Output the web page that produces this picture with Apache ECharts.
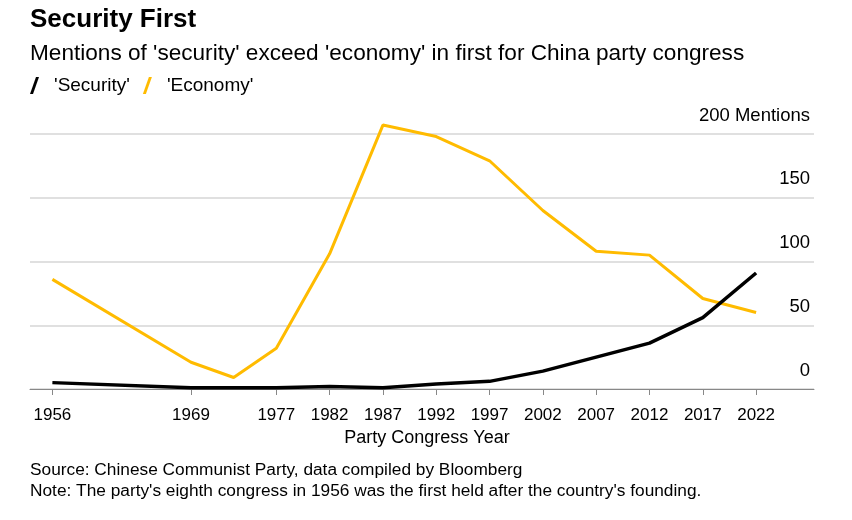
<!DOCTYPE html>
<html>
<head>
<meta charset="utf-8">
<script src="https://cdn.jsdelivr.net/npm/echarts@6/dist/echarts.min.js"></script>
<style>html,body{margin:0;padding:0;background:#fff;}#c{width:852px;height:520px;}</style>
</head>
<body>
<div id="c"></div>
<script>
var years = [1956, 1969, 1973, 1977, 1982, 1987, 1992, 1997, 2002, 2007, 2012, 2017, 2022];
var security = [5, 1, 1, 1, 2, 1, 4, 6, 14, 25, 36, 56, 91];
var economy = [86, 21, 9, 32, 106, 207, 198, 179, 140, 108, 105, 71, 60];
var tickYears = [1956, 1969, 1977, 1982, 1987, 1992, 1997, 2002, 2007, 2012, 2017, 2022];
var yTicks = [0, 50, 100, 150, 200];

var FONT = '"Liberation Sans", Arial, sans-serif';
function pairs(vals) { return years.map(function (y, i) { return [y, vals[i]]; }); }

var chart = echarts.init(document.getElementById('c'));
chart.setOption({
  backgroundColor: '#fff',
  animation: false,
  textStyle: { fontFamily: FONT },
  title: [
    { text: 'Security First', left: 30, top: 7, padding: 0, textStyle: { fontSize: 26, fontWeight: 'bold', color: '#000', fontFamily: FONT } },
    { text: "Mentions of 'security' exceed 'economy' in first for China party congress", left: 30, top: 42, padding: 0, textStyle: { fontSize: 22.6, fontWeight: 'normal', color: '#000', fontFamily: FONT } },
    { text: 'Source: Chinese Communist Party, data compiled by Bloomberg\nNote: The party\'s eighth congress in 1956 was the first held after the country\'s founding.', left: 30, top: 460, padding: 0, textStyle: { fontSize: 17.3, fontWeight: 'normal', color: '#000', lineHeight: 21, fontFamily: FONT } }
  ],
  legend: {
    left: 30, top: 76, padding: 0, itemGap: 13, itemWidth: 9, itemHeight: 17,
    icon: 'path://M0,17 L6,0 L9,0 L3,17 Z',
    textStyle: { fontSize: 19, color: '#000', fontFamily: FONT, padding: [0, 0, 0, 10] },
    data: ["'Security'", "'Economy'"]
  },
  grid: { left: 30, right: 38, top: 134, bottom: 131, containLabel: false },
  xAxis: {
    type: 'value', min: 1953.9, max: 2027.43,
    name: 'Party Congress Year', nameLocation: 'middle', nameGap: 40,
    nameTextStyle: { fontSize: 18, color: '#000', fontFamily: FONT, padding: [0, 0, 0, 10] },
    splitLine: { show: false },
    axisLine: { show: true, lineStyle: { color: '#888', width: 1 } },
    axisTick: { show: true, customValues: tickYears, length: 6, lineStyle: { color: '#888' } },
    axisLabel: { customValues: tickYears, fontSize: 17, color: '#000', margin: 18, fontFamily: FONT, formatter: function (v) { return String(v); } }
  },
  yAxis: {
    type: 'value', position: 'right', min: 0, max: 200, interval: 50,
    axisLine: { show: false }, axisTick: { show: false },
    splitLine: { show: true, lineStyle: { color: '#e0e0e0', width: 2 } },
    axisLabel: {
      inside: true, margin: 4, fontSize: 18.5, color: '#000', verticalAlign: 'bottom', padding: [0, 0, 9, 0], fontFamily: FONT,
      formatter: function (v) { return v === 200 ? '200 Mentions' : String(v); }
    }
  },
  series: [
    { name: "'Security'", type: 'line', data: pairs(security), clip: false, showSymbol: false, symbol: 'none', lineStyle: { color: '#000', width: 3.5 }, itemStyle: { color: '#000' }, z: 3 },
    { name: "'Economy'", type: 'line', data: pairs(economy), clip: false, showSymbol: false, symbol: 'none', lineStyle: { color: '#FFBB00', width: 3 }, itemStyle: { color: '#FFBB00' }, z: 2 }
  ]
});
</script>
</body>
</html>
